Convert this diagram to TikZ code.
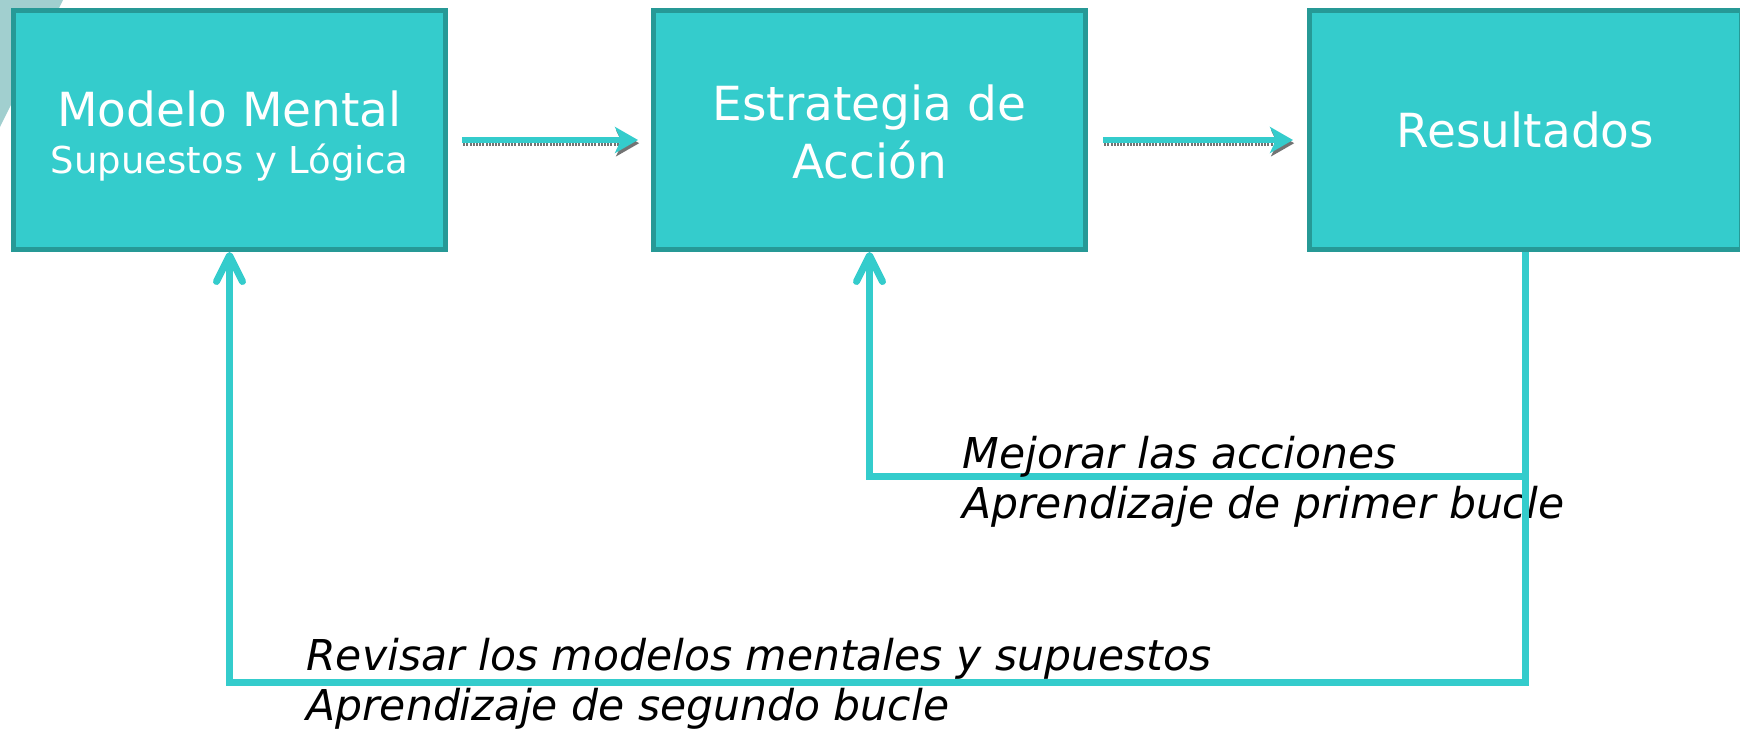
\documentclass[tikz,border=0pt]{standalone}
\usepackage{fontspec}
\setmainfont{DejaVu Sans}
\usepackage{tikz}
\usetikzlibrary{arrows.meta,calc}
\definecolor{tealfill}{RGB}{52,204,204}
\definecolor{tealedge}{RGB}{38,153,150}
\definecolor{greyteal}{RGB}{161,207,207}

\tikzset{
  box/.style={draw=tealedge,fill=tealfill,line width=2.5pt,minimum width=216pt,minimum height=119.5pt,inner sep=0pt,text=white,align=center,font=\fontsize{23.5}{23.5}\selectfont},
  flow/.style={draw=tealfill,line width=3pt,-{Stealth[length=11.5pt,width=13pt,inset=3pt]},
    preaction={draw=black!55,line width=3pt,dash pattern=on 1pt off 0.6pt,-{Stealth[length=11.5pt,width=13pt,inset=3pt]},transform canvas={shift={(0.6pt,-1.6pt)}}}},
  feedback/.style={draw=tealfill,line width=3.5pt,-{Straight Barb[length=13pt,width=13pt,round]}},
  notetext/.style={anchor=base west,inner sep=0pt,align=left,font=\fontsize{21.25}{24.75}\selectfont\itshape}
}

\begin{document}
\begin{tikzpicture}[x=0.5pt,y=0.5pt,yscale=-1,xscale=1]
\useasboundingbox (0,0) rectangle (1740,729);

%Corner shape
\fill[greyteal] (0,0) -- (63,0) -- (0,127) -- cycle;

%Boxes
\node[box,text height=47.4pt] (mental) at (229.5,130) {Modelo Mental\\{\fontsize{18.5}{23.5}\selectfont Supuestos y Lógica}};
\node[box,font=\fontsize{23.5}{29}\selectfont,text height=48.9pt] (strategy) at (869.5,130) {Estrategia de\\Acción};
\node[box] (results) at (1525.5,130) {Resultados};

%Straight Lines 
\draw[flow] ([xshift=7pt,yshift=5pt]mental.east) -- ([xshift=-6.5pt,yshift=5pt]strategy.west);
%Straight Lines 
\draw[flow] ([xshift=7.5pt,yshift=5pt]strategy.east) -- ([xshift=-7pt,yshift=5pt]results.west);

%Loops
\coordinate (firstloop) at ($(results.south)+(0,224)$);
\coordinate (secondloop) at ($(results.south)+(0,430)$);
\draw[feedback] (results.south) -- (firstloop) -| (strategy.south);

% Text Node
\node[notetext] (firstnote) at (962,518) {Mejorar las acciones\\Aprendizaje de primer bucle};
% Text Node
\node[notetext] (secondnote) at (306,720) {Revisar los modelos mentales y supuestos\\Aprendizaje de segundo bucle};

\draw[feedback] (results.south) -- (secondloop) -| (mental.south);

\end{tikzpicture}
\end{document}
